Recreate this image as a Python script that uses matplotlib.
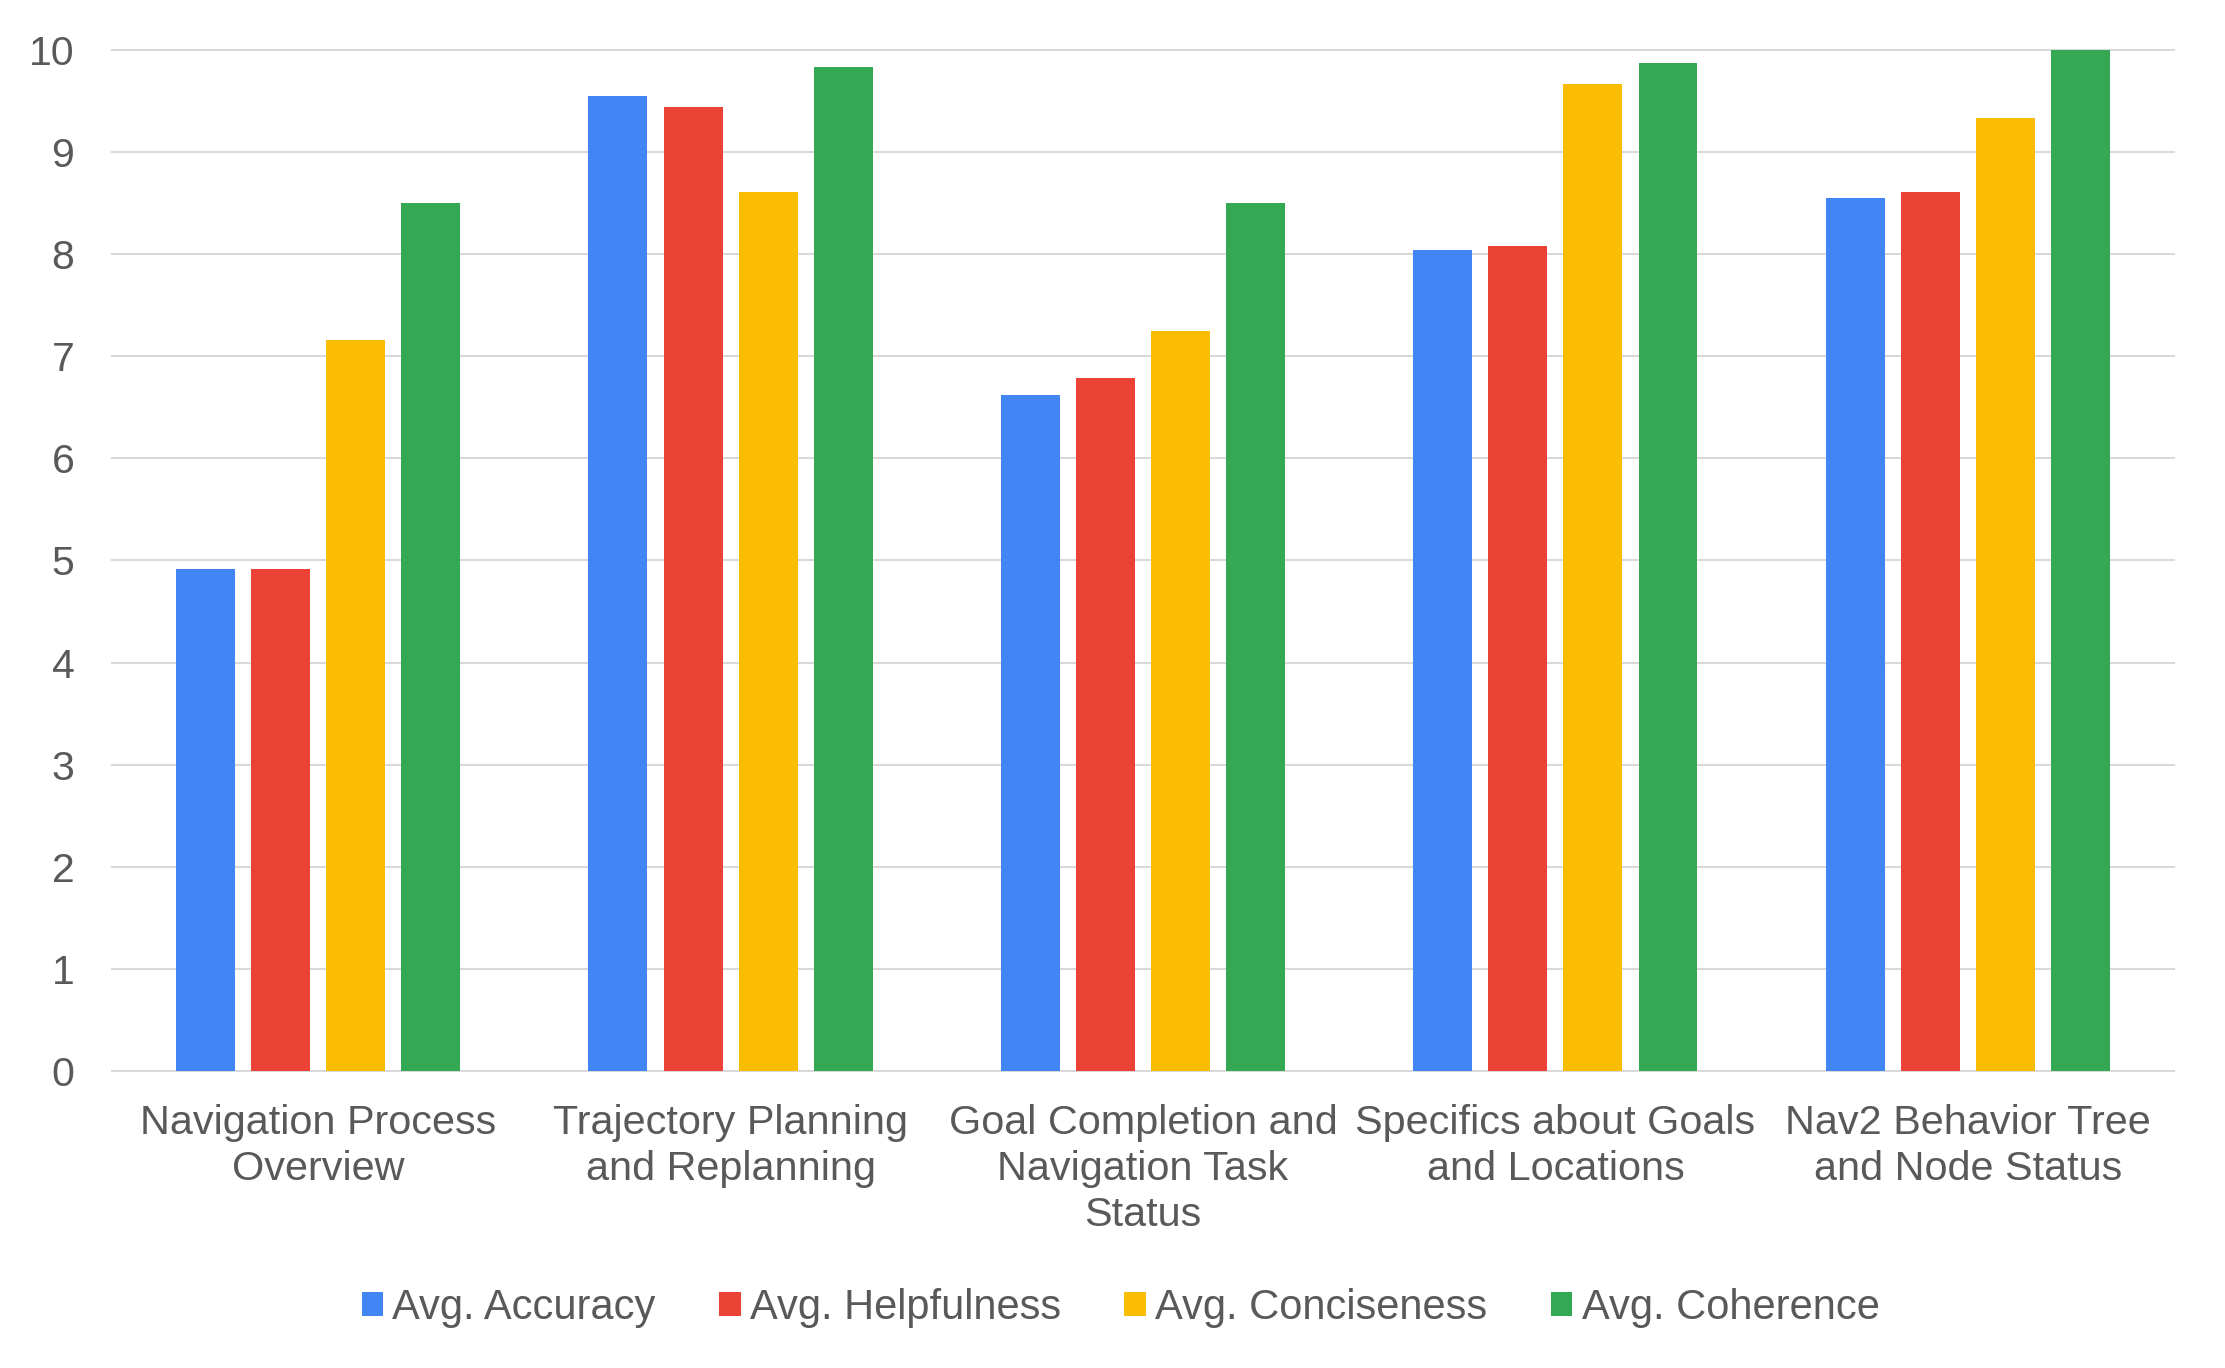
import matplotlib
matplotlib.use('Agg')
import matplotlib.pyplot as plt
import numpy as np

# Datos
categorias = ['Navigation Process\nOverview',
              'Trajectory Planning\nand Replanning',
              'Goal Completion and\nNavigation Task\nStatus',
              'Specifics about Goals\nand Locations',
              'Nav2 Behavior Tree\nand Node Status']
series = ['Avg. Accuracy', 'Avg. Helpfulness', 'Avg. Conciseness', 'Avg. Coherence']
accuracy = [4.92, 9.55, 6.62, 8.04, 8.55]
helpfulness = [4.92, 9.44, 6.79, 8.08, 8.61]
conciseness = [7.16, 8.61, 7.25, 9.67, 9.33]
coherence = [8.50, 9.83, 8.50, 9.87, 10.0]
colores = ['#4285F4', '#EA4335', '#FBBC04', '#34A853']

plt.rcParams['font.family'] = ['Liberation Sans', 'DejaVu Sans']
gris = '#595959'

fig = plt.figure(figsize=(22.25, 13.68), dpi=100)
ax = fig.add_axes([0.0503, 0.2171, 0.9268, 0.7464])

x = np.arange(len(categorias))
ancho = 0.143
paso = 0.182
valores = [accuracy, helpfulness, conciseness, coherence]
for i, (vals, nombre, c) in enumerate(zip(valores, series, colores)):
    ax.bar(x + (i - 1.5) * paso, vals, width=ancho, color=c, label=nombre, zorder=3)

ax.set_xlim(-0.5, len(categorias) - 0.5)
ax.set_ylim(0, 10)
ax.set_yticks(range(0, 11))
ax.set_xticks(x)
ax.set_xticklabels(categorias, fontsize=29.8, color=gris, linespacing=1.26)
ax.tick_params(axis='y', labelsize=29.5, labelcolor=gris, length=0, pad=27)
ax.tick_params(axis='x', length=0, pad=24)

ax.yaxis.grid(True, color='#d9d9d9', linewidth=1.5, zorder=0)
for linea in ax.get_ygridlines():
    linea.set_clip_on(False)
ax.set_axisbelow(True)
for s in ax.spines.values():
    s.set_visible(False)

handles, labels = ax.get_legend_handles_labels()
fig.legend(handles, labels, loc='center', bbox_to_anchor=(0.5036, 1 - 1308 / 1368),
           ncol=4, frameon=False, fontsize=30, labelcolor=gris,
           handlelength=0.52, handleheight=0.52, handletextpad=0.22,
           columnspacing=1.52)

plt.savefig('out.png', dpi=100)
